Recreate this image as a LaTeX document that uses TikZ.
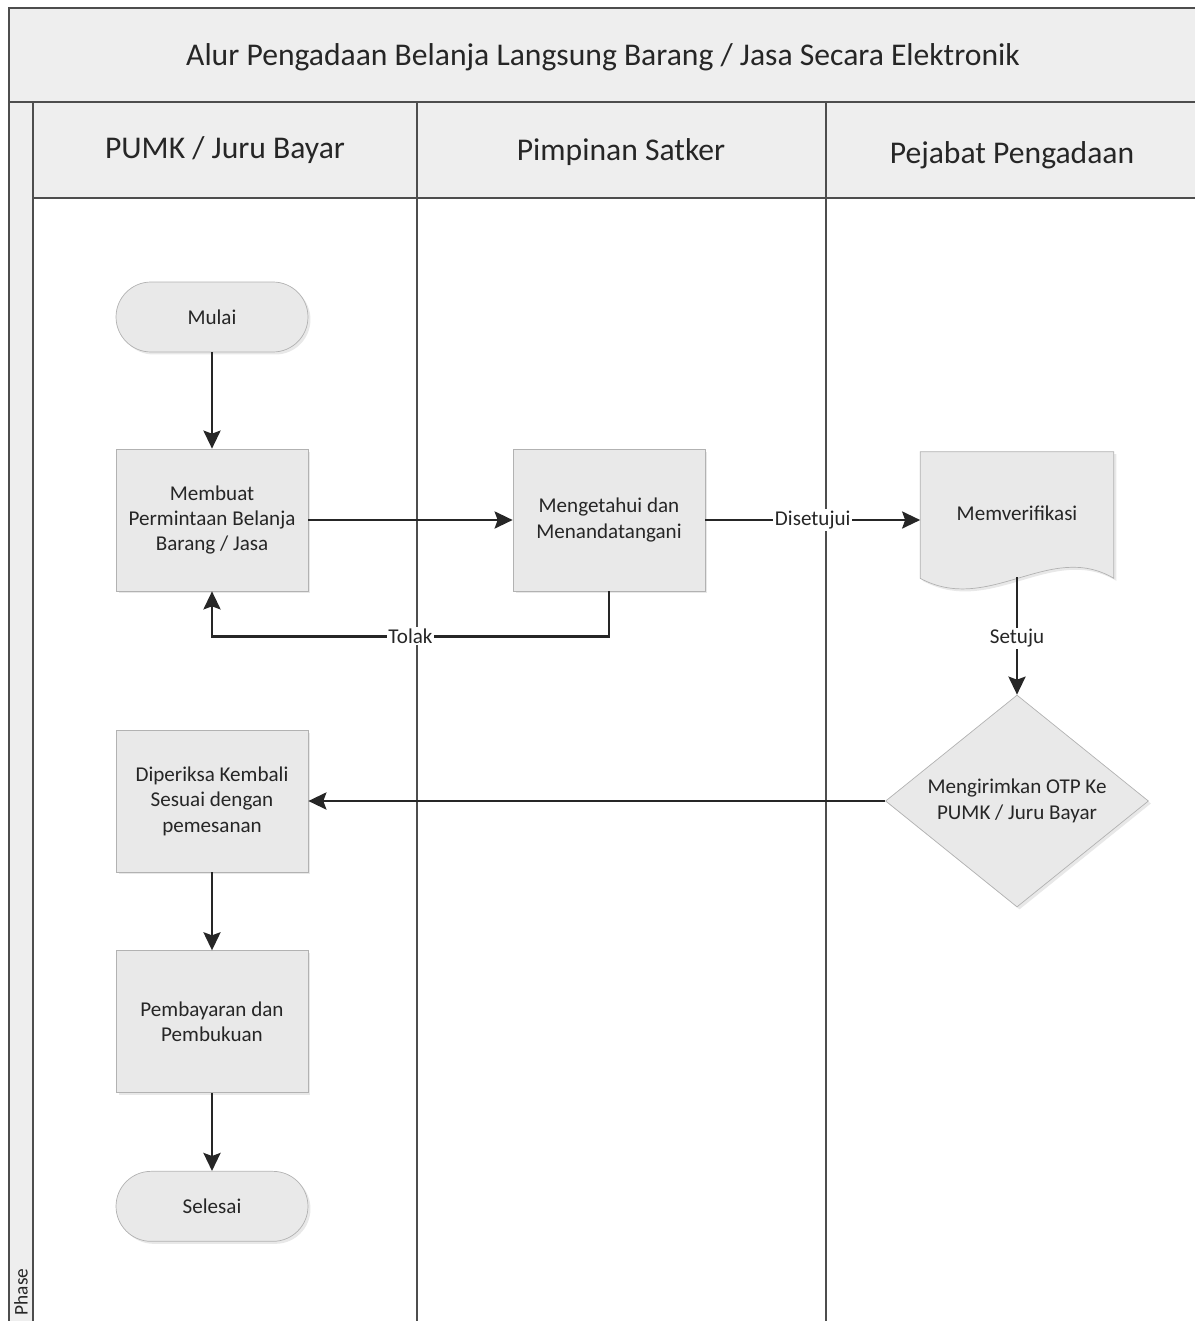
\documentclass[tikz,border=0pt]{standalone}
\usepackage{fontspec}
\setmainfont{Carlito}
\usetikzlibrary{arrows.meta,calc,positioning,shapes.geometric,backgrounds,shadows}

\definecolor{bandgray}{HTML}{EEEEEE}
\definecolor{boxgray}{HTML}{E9E9E9}
\definecolor{framecol}{HTML}{4D4D4D}
\definecolor{inkcol}{HTML}{262626}

\begin{document}
\begin{tikzpicture}[x=0.02cm,y=-0.02cm,>={Stealth[length=0.36cm,width=0.34cm,inset=0.06cm]},
	font=\fontsize{12}{14.5}\selectfont,text=inkcol,align=center,
	frame/.style={draw=framecol,line width=0.9pt},
	band/.style={fill=bandgray},
	lanehead/.style={font=\fontsize{18}{21}\selectfont},
	boxshadow/.style={drop shadow={opacity=0.18,shadow xshift=0.05cm,shadow yshift=-0.05cm}},
	proc/.style={rectangle,draw=gray!60,fill=boxgray,minimum width=3.84cm,minimum height=2.84cm,inner sep=2pt,boxshadow},
	term/.style={rectangle,rounded corners=0.7cm,draw=gray!60,fill=boxgray,minimum width=3.84cm,minimum height=1.4cm,boxshadow},
	decide/.style={diamond,aspect=1.24,draw=gray!60,fill=boxgray,minimum width=5.26cm,minimum height=4.24cm,inner sep=0pt,boxshadow},
	docnode/.style={rectangle,minimum width=3.86cm,minimum height=2.72cm,inner sep=0pt},
	flow/.style={->,draw=inkcol,line width=1.6pt},
	lbl/.style={fill=white,inner sep=1pt}]
	\useasboundingbox (0,0) rectangle (1195,1321);
	% swimlane frame
	\fill[band] (9,8) rectangle (1200,102);
	\fill[band] (9,102) rectangle (33,1330);
	\fill[band] (33,102) rectangle (1200,198);
	\draw[frame] (9,1330) -- (9,8) -- (1200,8);
	\draw[frame] (9,102) -- (1200,102);
	\draw[frame] (33,102) -- (33,1330);
	\draw[frame] (33,198) -- (1200,198);
	\draw[frame] (417,102) -- (417,1330);
	\draw[frame] (826,102) -- (826,1330);
	\node[font=\fontsize{18}{21}\selectfont] (title) at (603,57) {Alur Pengadaan Belanja Langsung Barang / Jasa Secara Elektronik};
	\node[lanehead] (hpumk) at (225,150) {PUMK / Juru Bayar};
	\node[lanehead] (hsatker) at (621,152) {Pimpinan Satker};
	\node[lanehead] (hpejabat) at (1012,155) {Pejabat Pengadaan};
	\node[rotate=90,font=\fontsize{11}{13}\selectfont] (phase) at (21,1292) {Phase};
	% steps
	\node[term] (mulai) at (212,317) {Mulai};
	\node[proc] (membuat) at (212,520) {Membuat\\Permintaan Belanja\\Barang / Jasa};
	\node[proc] (meng) at (609,520) {Mengetahui dan\\Menandatangani};
	\node[docnode] (memv) at (1017,520) {\raisebox{0.28cm}{Memverifikasi}};
	\node[decide] (kirim) at (1017,801) {Mengirimkan OTP Ke\\PUMK / Juru Bayar};
	\node[proc] (periksa) at (212,801) {Diperiksa Kembali\\Sesuai dengan\\pemesanan};
	\node[proc,below=1.56cm of periksa] (bayar) {Pembayaran dan\\Pembukuan};
	\node[term,below=1.56cm of bayar] (selesai) {Selesai};
	\begin{scope}[on background layer]
		\draw[draw=gray!60,fill=boxgray,boxshadow] (memv.north west) -- (memv.north east)
			-- ($(memv.south east)+(0,-10)$) .. controls +(-64,-38) and +(69,37) .. ($(memv.south west)+(0,-10)$) -- cycle;
	\end{scope}
	% connectors
	\draw[flow] (mulai) -- (membuat);
	\draw[flow] (membuat) -- (meng);
	\draw[flow] (meng) -- node[lbl] {Disetujui} (memv);
	\draw[flow] (meng.south) -- ++(0,45) -| node[lbl,pos=0.25] {Tolak} (membuat.south);
	\draw[flow] ($(memv.south)+(0,-11)$) -- node[lbl,pos=0.52] {Setuju} (kirim);
	\draw[flow] (kirim) -- (periksa);
	\draw[flow] (periksa) -- (bayar);
	\draw[flow] (bayar) -- (selesai);
\end{tikzpicture}
\end{document}
